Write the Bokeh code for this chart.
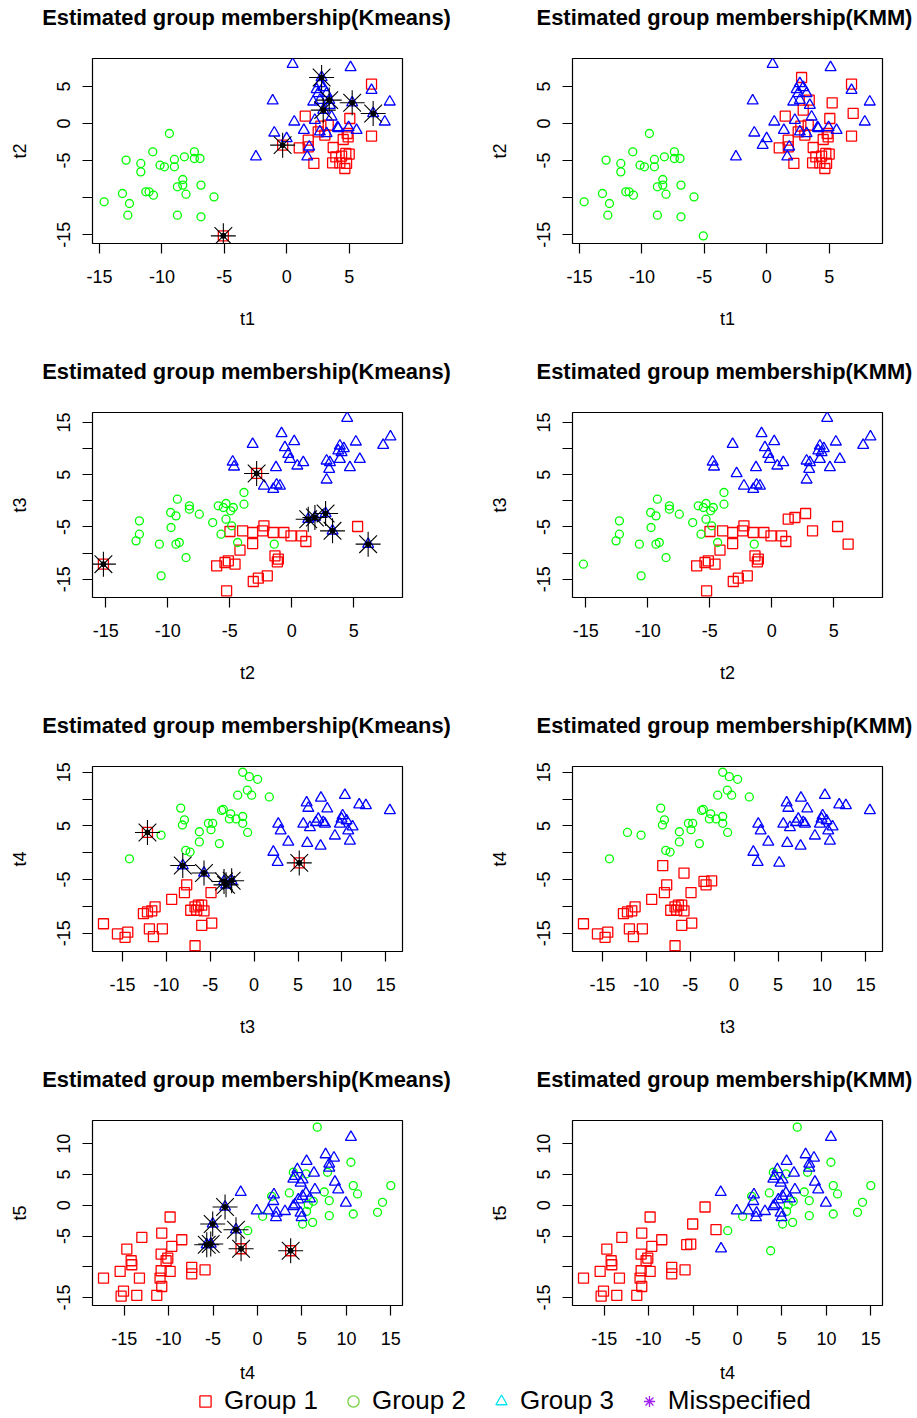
import numpy as np
from bokeh.plotting import figure
from bokeh.models import Range1d, FixedTicker, Legend, LegendItem, Label
from bokeh.layouts import column, row
from bokeh.embed import file_html
from bokeh.resources import INLINE

FONT = "Liberation Sans"
GROUP_COLORS = {1: "#FF0000", 2: "#00FF00", 3: "#0000FF"}
GROUP_MARKERS = {1: "square", 2: "circle", 3: "triangle"}
GROUP_SIZES = {1: 10, 2: 8, 3: 11}
METHODS = ["Kmeans", "KMM"]

# ---------------- Row 1 : t1 (x) vs t2 (y) ----------------
r1_g1_x = [6.79, 1.48, 5.05, 6.79, 2.73, 3.32, 2.52, 3.05, 1.72, 1.0, 1.72, 3.72, 4.52, 4.92, 4.84, 3.93, 4.39, 4.73, 5.0, 3.67, 4.25, 4.79, 4.65, 2.17]
r1_g1_y = [5.30, 0.99, 0.67, -1.71, -0.36, -0.22, -1.12, -1.57, -2.25, -3.28, -3.15, -3.24, -2.16, -1.80, -1.35, -4.49, -4.40, -4.04, -4.13, -5.30, -5.30, -5.39, -6.07, -5.39]
r1_g2_x = [-9.4, -10.73, -12.87, -11.69, -11.69, -10.15, -9.8, -9.0, -9.0, -8.2, -7.4, -7.4, -6.95, -8.33, -8.33, -8.76, -6.87, -13.16, -11.29, -11.03, -10.68, -8.07, -14.63, -12.6, -5.83, -12.73, -8.76, -6.87]
r1_g2_y = [-1.35, -3.82, -4.94, -5.39, -6.52, -5.62, -5.84, -4.85, -5.84, -4.49, -3.82, -4.72, -4.72, -7.55, -8.31, -8.54, -8.31, -9.44, -9.21, -9.21, -9.66, -9.53, -10.56, -10.79, -9.89, -12.36, -12.36, -12.58]
r1_g3_x = [0.47, 5.11, 6.79, 8.25, -1.13, 7.85, 0.6, 1.37, -1.0, -0.01, -2.47, 1.64, 1.8, 4.07, 4.95, 5.59, 2.65, 2.92, 2.52, 3.19, 2.65, 2.12, 3.45, 2.25, 3.59, 2.65, 3.19, 4.12, 2.39]
r1_g3_y = [8.0, 7.55, 4.49, 2.92, 3.06, 0.22, 0.22, -0.90, -1.26, -2.02, -4.49, -4.49, -3.15, -0.54, -0.54, -0.90, 5.39, 4.85, 4.04, 4.04, 3.15, 2.92, 2.47, 0.45, 0.90, -1.12, -1.35, -0.67, 4.58]
r1_mis_x = [2.79, 3.40, 5.24, 6.92, 2.92, -0.33, -5.08]
r1_mis_y = [6.20, 3.15, 2.79, 1.35, 1.80, -2.92, -15.15]
r1_mis_kmeans = [3, 3, 3, 3, 3, 1, 1]
r1_mis_kmm = [1, 1, 1, 1, 1, 3, 2]

# ---------------- Row 2 : t2 (x) vs t3 (y) ----------------
r2_g1_x = [-4.99, -3.97, -3.16, -2.36, -2.25, -1.50, -0.64, -0.07, 0.79, 1.13, -3.16, -4.18, -1.36, -1.09, -1.17, -6.06, -5.39, -5.12, -4.58, -1.98, -2.70, -3.11, -5.26, 5.30]
r2_g1_y = [-5.87, -5.74, -6.06, -5.74, -4.78, -6.06, -6.06, -6.70, -6.70, -7.78, -8.17, -9.44, -10.53, -11.16, -11.68, -12.44, -11.80, -11.48, -12.12, -14.36, -14.80, -15.44, -17.23, -4.91]
r2_g2_x = [-3.86, -3.86, -5.31, -5.93, -5.52, -4.72, -4.93, -5.31, -4.85, -6.38, -5.71, -9.23, -8.26, -8.26, -7.46, -9.77, -9.34, -9.74, -12.29, -12.29, -12.56, -10.68, -9.34, -9.07, -8.53, -10.54, -4.37, -1.42]
r2_g2_y = [1.6, -0.64, -0.51, -0.95, -1.27, -1.27, -1.91, -3.51, -4.78, -4.15, -6.38, 0.32, -0.95, -1.59, -2.55, -2.23, -2.87, -5.1, -3.83, -6.38, -7.66, -8.29, -8.29, -7.97, -10.85, -14.36, -7.97, -8.29]
r2_g3_x = [4.46, 7.95, 7.36, 5.16, -0.83, 0.19, -0.56, -3.16, 3.87, 4.19, 3.74, 4.01, -0.29, -0.15, 0.92, 0.44, -4.77, -4.66, -1.28, 2.80, 3.07, 3.87, 5.48, 4.68, 3.01, 2.80, -2.25, -1.23, -0.96, -1.50]
r2_g3_y = [15.83, 12.26, 10.66, 11.30, 12.89, 11.36, 10.21, 10.85, 10.53, 10.02, 9.58, 9.26, 8.94, 7.98, 7.34, 6.70, 7.47, 6.51, 6.38, 7.66, 7.34, 7.98, 7.98, 6.38, 6.07, 4.02, 2.87, 3.07, 2.87, 2.24]
r2_mis_x = [1.32, 1.86, 2.72, 3.28, 6.15, -2.84, -15.19]
r2_mis_y = [-3.51, -3.19, -2.42, -5.74, -8.29, 5.24, -12.12]
r2_mis_kmeans = [3, 3, 3, 3, 3, 1, 1]
r2_mis_kmm = [1, 1, 1, 1, 1, 3, 2]

# ---------------- Row 3 : t3 (x) vs t4 (y) ----------------
r3_g1_x = [-7.68, -7.94, -4.91, -9.39, -11.28, -11.66, -12.15, -12.61, -7.22, -6.73, -6.35, -5.97, -5.71, -6.54, -17.16, -15.57, -14.70, -14.39, -11.93, -11.47, -10.45, -5.97, -4.83, -6.73]
r3_g1_y = [-5.98, -7.43, -7.43, -8.69, -10.08, -10.83, -11.02, -11.34, -10.71, -10.08, -9.76, -9.76, -10.83, -10.71, -13.23, -15.12, -15.75, -14.80, -14.17, -15.62, -14.17, -13.54, -13.10, -17.33]
r3_g2_x = [-1.3, -0.55, 0.40, -0.77, -0.28, -1.87, 1.73, -8.36, -3.51, -3.70, -2.67, -1.30, -2.06, -2.82, -7.94, -8.17, -5.21, -4.72, -4.91, -1.30, -0.74, -6.24, -6.24, -10.60, -3.96, -7.79, -7.30, -14.20]
r3_g2_y = [15.0, 14.18, 13.68, 11.66, 10.72, 10.72, 10.40, 8.32, 8.07, 7.88, 7.25, 6.75, 6.30, 6.30, 6.12, 5.17, 5.49, 5.49, 4.29, 5.49, 3.78, 3.91, 2.02, 3.28, 1.70, 0.44, 0.13, -1.13]
r3_g3_x = [15.46, 11.97, 12.73, 10.34, 7.61, 5.98, 6.17, 8.33, 10.08, 9.96, 10.53, 9.77, 11.21, 10.72, 7.31, 7.04, 7.88, 8.07, 5.60, 6.36, 6.05, 7.57, 9.20, 10.91, 2.75, 3.02, 3.89, 2.19, 2.68]
r3_g3_y = [7.88, 8.95, 8.82, 10.72, 10.21, 9.33, 8.32, 8.19, 6.93, 6.30, 5.99, 5.36, 4.85, 4.10, 6.30, 5.67, 5.67, 5.36, 5.36, 4.73, 1.77, 1.26, 3.15, 2.21, 5.36, 4.10, 2.02, 0.13, -1.76]
r3_mis_x = [-8.13, -5.71, -3.43, -2.56, -3.20, 5.14, -12.15]
r3_mis_y = [-2.39, -3.78, -5.35, -5.23, -5.98, -1.89, 3.78]
r3_mis_kmeans = [3, 3, 3, 3, 3, 1, 1]
r3_mis_kmm = [1, 1, 1, 1, 1, 3, 2]

# ---------------- Row 4 : t4 (x) vs t5 (y) ----------------
r4_g1_x = [-9.83, -10.77, -8.52, -13.01, -9.64, -14.70, -10.84, -10.09, -10.28, -14.21, -14.14, -15.45, -17.32, -13.28, -10.84, -9.83, -10.96, -10.77, -7.40, -7.40, -5.90, -15.07, -15.34, -13.58, -11.33]
r4_g1_y = [-1.90, -4.51, -5.60, -5.22, -6.68, -7.12, -7.93, -8.59, -9.02, -9.02, -9.67, -10.76, -11.85, -11.85, -10.65, -10.76, -11.85, -13.21, -10.11, -11.14, -10.49, -13.97, -14.79, -14.64, -14.64]
r4_g2_x = [6.72, 10.51, 7.88, 5.45, 4.03, 3.58, 7.51, 8.07, 10.77, 11.25, 15.0, 14.06, 13.50, 10.77, 8.07, 6.20, 5.07, 5.52, 5.71, 6.27, 1.59, 0.58, -1.10]
r4_g2_y = [12.72, 7.01, 5.38, 5.11, 5.38, 2.01, 2.17, 0.76, 3.21, 1.85, 3.21, 0.49, -1.14, -1.41, -1.68, -2.77, -3.04, -0.98, 0.11, 0.65, 1.47, -1.79, -4.13]
r4_g3_x = [10.51, 7.66, 8.60, 8.07, 8.07, 5.52, 6.35, 4.48, 4.21, 4.03, 5.07, 4.85, 8.71, 9.08, 6.46, 5.45, -1.89, 1.85, 1.78, 9.94, 5.90, 5.07, 4.59, 4.21, 4.03, -0.09, 1.22, 2.15, 3.09, 2.08, 4.85, 4.96]
r4_g3_y = [11.09, 8.26, 7.72, 6.74, 6.09, 7.17, 5.27, 5.82, 4.73, 4.29, 4.18, 3.64, 3.80, 2.55, 2.55, 2.01, 2.12, 1.74, 0.65, 0.38, 1.09, 1.47, 0.92, 0.11, -0.16, -0.87, -0.87, -1.25, -0.98, -1.96, -1.25, -1.96]
r4_mis_x = [-3.65, -5.04, -2.42, -5.71, -5.26, -1.85, 3.73]
r4_mis_y = [-0.27, -3.04, -3.97, -6.41, -6.30, -7.07, -7.39]
r4_mis_kmeans = [3, 3, 3, 3, 3, 1, 1]
r4_mis_kmm = [1, 1, 1, 1, 1, 3, 2]

# axis settings per row
x_labels = ["t1", "t2", "t3", "t4"]
y_labels = ["t2", "t3", "t4", "t5"]
x_ranges = [(-15.56, 9.27), (-16.07, 8.92), (-18.41, 16.9), (-18.56, 16.31)]
y_ranges = [(-16.18, 8.76), (-18.5, 16.91), (-18.4, 16.07), (-16.3, 13.8)]
x_ticks = [[-15, -10, -5, 0, 5], [-15, -10, -5, 0, 5],
           [-15, -10, -5, 0, 5, 10, 15], [-15, -10, -5, 0, 5, 10, 15]]
y_ticks = [[-15, -10, -5, 0, 5], [-15, -10, -5, 0, 5, 10, 15],
           [-15, -10, -5, 0, 5, 10, 15], [-15, -10, -5, 0, 5, 10]]
y_hidden = [[-10], [-10, 0, 10], [-10, 0, 10], [-10]]

legend_labels = ["Group 1", "Group 2", "Group 3", "Misspecified"]
legend_colors = ["#FF0000", "#72D13E", "#00E5F0", "#A020F0"]
legend_markers = ["square", "circle", "triangle", "asterisk"]

rows_data = [
    (r1_g1_x, r1_g1_y, r1_g2_x, r1_g2_y, r1_g3_x, r1_g3_y, r1_mis_x, r1_mis_y, r1_mis_kmeans, r1_mis_kmm),
    (r2_g1_x, r2_g1_y, r2_g2_x, r2_g2_y, r2_g3_x, r2_g3_y, r2_mis_x, r2_mis_y, r2_mis_kmeans, r2_mis_kmm),
    (r3_g1_x, r3_g1_y, r3_g2_x, r3_g2_y, r3_g3_x, r3_g3_y, r3_mis_x, r3_mis_y, r3_mis_kmeans, r3_mis_kmm),
    (r4_g1_x, r4_g1_y, r4_g2_x, r4_g2_y, r4_g3_x, r4_g3_y, r4_mis_x, r4_mis_y, r4_mis_kmeans, r4_mis_kmm),
]

PAGE_W = 917
FRAME_W, FRAME_H = 310, 185
STRIP_H = 36          # title strip above each row of panels
BORDER_TOP = 22       # gap between title strip and plot frame


def make_title_strip():
    s = figure(width=PAGE_W, height=STRIP_H, x_range=Range1d(0, 1), y_range=Range1d(0, 1),
               output_backend="svg", toolbar_location=None,
               min_border_left=0, min_border_right=0, min_border_top=0, min_border_bottom=0)
    s.axis.visible = False
    s.grid.visible = False
    s.outline_line_color = None
    s.background_fill_color = "white"
    s.border_fill_color = "white"
    for method, cx in zip(METHODS, (246, 724)):
        s.add_layout(Label(x=cx, y=STRIP_H - 17.4, x_units="screen", y_units="screen",
                           text="Estimated group membership(%s)" % method,
                           text_font=FONT, text_font_size="21.9px", text_font_style="bold",
                           text_color="#000000", text_align="center", text_baseline="middle"))
    return s


def make_panel(i, method, left, height):
    g1x, g1y, g2x, g2y, g3x, g3y, mx, my, mkm, mkmm = rows_data[i]
    w = 460 if left else 457
    bl = 92 if left else 112
    br = w - bl - FRAME_W
    bb = height - BORDER_TOP - FRAME_H
    p = figure(width=w, height=height,
               x_range=Range1d(*x_ranges[i]), y_range=Range1d(*y_ranges[i]),
               output_backend="svg", toolbar_location=None,
               min_border_left=bl, min_border_right=br,
               min_border_top=BORDER_TOP, min_border_bottom=bb)
    p.grid.visible = False
    p.outline_line_color = "#000000"
    p.outline_line_width = 1.2
    p.background_fill_color = "white"
    p.border_fill_color = "white"

    for ax in (p.xaxis[0], p.yaxis[0]):
        ax.axis_line_color = None
        ax.major_tick_out = 10
        ax.major_tick_in = 0
        ax.minor_tick_out = 0
        ax.minor_tick_in = 0
        ax.major_tick_line_color = "#000000"
        ax.major_tick_line_width = 1.2
        ax.major_label_text_font = FONT
        ax.major_label_text_font_size = "18px"
        ax.major_label_text_color = "#000000"
        ax.axis_label_text_font = FONT
        ax.axis_label_text_font_size = "18px"
        ax.axis_label_text_font_style = "normal"
        ax.axis_label_text_color = "#000000"

    p.xaxis.ticker = FixedTicker(ticks=x_ticks[i])
    p.yaxis.ticker = FixedTicker(ticks=y_ticks[i])
    p.xaxis.major_label_overrides = {t: str(t) for t in x_ticks[i]}
    p.yaxis.major_label_overrides = {t: ("" if t in y_hidden[i] else str(t)) for t in y_ticks[i]}
    p.xaxis.axis_label = x_labels[i]
    p.yaxis.axis_label = y_labels[i]
    p.xaxis.major_label_standoff = 16
    p.xaxis.axis_label_standoff = 23 if i < 3 else 15
    p.yaxis.major_label_orientation = "vertical"
    p.yaxis.major_label_standoff = 12
    p.yaxis.axis_label_standoff = 25

    pts = {1: (list(g1x), list(g1y)), 2: (list(g2x), list(g2y)), 3: (list(g3x), list(g3y))}
    for x, y, km, kmm in zip(mx, my, mkm, mkmm):
        g = km if method == "Kmeans" else kmm
        pts[g][0].append(x)
        pts[g][1].append(y)
    for g in (1, 2, 3):
        p.scatter(x=pts[g][0], y=pts[g][1], marker=GROUP_MARKERS[g], size=GROUP_SIZES[g],
                  fill_color=None, line_color=GROUP_COLORS[g], line_width=1.3)
    if method == "Kmeans":
        p.scatter(x=mx, y=my, marker="asterisk", size=25, line_color="#000000", line_width=1.1)
        p.scatter(x=mx, y=my, marker="circle", size=5, fill_color="#000000", line_color="#000000")
    return p


panel_heights = [354 - STRIP_H, 354 - STRIP_H, 354 - STRIP_H, 324 - STRIP_H]
children = []
for i in range(4):
    children.append(make_title_strip())
    children.append(row(make_panel(i, "Kmeans", True, panel_heights[i]),
                        make_panel(i, "KMM", False, panel_heights[i])))

# legend strip
lg = figure(width=PAGE_W, height=32, x_range=Range1d(0, 1), y_range=Range1d(0, 1),
            output_backend="svg", toolbar_location=None,
            min_border_left=0, min_border_right=0, min_border_top=0, min_border_bottom=0)
lg.axis.visible = False
lg.grid.visible = False
lg.outline_line_color = None
lg.background_fill_color = "white"
lg.border_fill_color = "white"
items = []
for lab, col, mk in zip(legend_labels, legend_colors, legend_markers):
    r = lg.scatter(x=np.array([np.nan]), y=np.array([np.nan]), marker=mk, size=12,
                   fill_color=None, line_color=col, line_width=1.3)
    items.append(LegendItem(label=lab, renderers=[r]))
leg = Legend(items=items, orientation="horizontal", location=(190, 2),
             glyph_width=30, glyph_height=28, label_standoff=4, spacing=20,
             padding=0, margin=0, border_line_color=None, background_fill_alpha=0,
             label_text_font=FONT, label_text_font_size="26px", label_text_color="#000000")
lg.add_layout(leg)
children.append(lg)

layout = column(*children)
open("out.html", "w").write(file_html(layout, INLINE))
